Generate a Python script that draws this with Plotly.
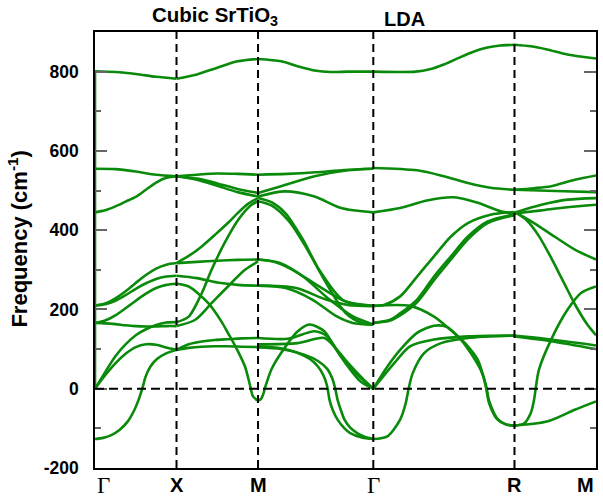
import plotly.graph_objects as go

# High-symmetry path of the simple-cubic Brillouin zone (distances in units of 2*pi/a)
path_labels = ["Γ", "X", "M", "Γ", "R", "M"]
path_k = [0.0, 0.5, 1.0, 1.7071, 2.5731, 3.0731]

# Frequency axis ticks (cm^-1)
freq_ticks = [-200, 0, 200, 400, 600, 800]
freq_tick_text = ["-200", "0", "200", "400", "600", "800"]

# Non-analytic LO jump drawn at the first Γ point (cm^-1)
gamma_jump = [0, 800]

# Phonon branches, one dict per path segment:
# name -> (fractional position along the segment, frequency in cm^-1; imaginary shown negative)
seg_gamma_x = {
    "A": ([0, .25, .5, .75, 1], [801, 799, 794, 787, 782]),
    "B": ([0, .25, .5, .75, 1], [555, 554, 548, 540, 536]),
    "C": ([0, .125, .25, .375, .5, .625, .75, .875, 1], [445, 450, 460, 472, 484, 502, 520, 532, 536]),
    "D1": ([0, .125, .25, .375, .5, .625, .75, .875, 1], [210, 215, 228, 246, 267, 287, 303, 313, 317]),
    "D2": ([0, .125, .25, .375, .5, .625, .75, .875, 1], [210, 213, 222, 236, 252, 266, 277, 283, 285]),
    "D3": ([0, .125, .25, .375, .5, .625, .75, .875, 1], [166, 172, 185, 203, 222, 240, 254, 262, 265]),
    "E1": ([0, .125, .25, .375, .5, .625, .75, .875, 1], [166, 165, 163, 160, 158, 157, 157, 158, 158]),
    "E2": ([0, .125, .25, .375, .5, .625, .75, .875, 1], [0, 42, 82, 112, 135, 150, 161, 167, 168]),
    "E3": ([0, .125, .25, .375, .5, .625, .75, .875, 1], [0, 34, 64, 88, 105, 112, 111, 104, 98]),
    "E4": ([0, .1, .2, .3, .4, .48, .54, .58, .62, .68, .76, .86, 1],
           [-127, -124, -117, -104, -83, -55, -25, 0, 30, 56, 75, 88, 98]),
}

seg_x_m = {
    "A": ([0, .25, .5, .75, 1], [782, 793, 810, 826, 832]),
    "B": ([0, .25, .5, .75, 1], [536, 540, 543, 542, 540]),
    "C": ([0, .25, .5, .75, 1], [536, 530, 518, 504, 494]),
    "C2": ([0, .25, .5, .75, 1], [536, 527, 512, 496, 485]),
    "D1": ([0, .25, .5, .75, 1], [317, 320, 323, 325, 326]),
    "D1p": ([0, .15, .31, .47, .63, .75, .88, 1], [317, 335, 359, 388, 418, 443, 467, 481]),
    "D2": ([0, .25, .5, .75, 1], [285, 279, 268, 262, 260]),
    "D3": ([0, .15, .39, .55, .63, .74, .84, .9, .94, 1], [265, 258, 216, 170, 141, 100, 56, 10, -20, -30]),
    "E2": ([0, .15, .31, .43, .59, .76, .92, 1], [168, 182, 241, 300, 368, 427, 464, 473]),
    "E1": ([0, .23, .43, .63, .84, 1], [158, 174, 216, 258, 300, 321]),
    "F1": ([0, .15, .31, .47, .63, .8, 1], [98, 112, 119, 123, 125, 127, 128]),
    "F2": ([0, .15, .31, .47, .63, .8, 1], [98, 103, 106, 107, 107, 106, 105]),
}

seg_m_gamma = {
    "A": ([0, .2, .35, .49, .63, .78, 1], [832, 826, 813, 803, 799, 800, 800]),
    "B": ([0, .25, .5, .75, 1], [540, 542, 546, 552, 555]),
    "C": ([0, .2, .49, .78, 1], [494, 511, 536, 551, 555]),
    "C2": ([0, .23, .49, .72, 1], [485, 498, 485, 456, 445]),
    "L1": ([0, .12, .24, .39, .53, .73, .9, 1], [481, 470, 442, 376, 300, 225, 210, 209]),
    "L2": ([0, .12, .27, .42, .59, .76, .9, 1], [473, 462, 422, 355, 267, 191, 166, 162]),
    "L4": ([0, .13, .3, .53, .76, 1], [326, 321, 300, 258, 220, 209]),
    "L5": ([0, .19, .39, .62, .82, 1], [326, 317, 283, 225, 183, 162]),
    "L6": ([0, .24, .47, .68, .82, 1], [260, 254, 225, 183, 166, 162]),
    "L7": ([0, .33, .59, .79, 1], [260, 254, 225, 211, 209]),
    "H1": ([0, .025, .045, .058, .08, .115, .2, .345, .445, .575, .66, .78, .89, 1],
           [-30, -26, -14, 0, 20, 48, 90, 145, 162, 145, 107, 56, 18, 0]),
    "H2": ([0, .26, .49, .6, .72, .85, 1], [128, 126, 145, 132, 82, 38, 0]),
    "H3": ([0, .345, .575, .68, .78, .9, 1], [112, 115, 128, 100, 65, 28, 0]),
    "S1": ([0, .2, .345, .45, .52, .57, .6, .62, .65, .69, .75, .8, .9, 1],
           [107, 102, 90, 75, 56, 32, 6, -28, -55, -78, -100, -112, -123, -127]),
    "S2": ([0, .2, .4, .52, .6, .645, .67, .69, .72, .75, .8, .86, .93, 1],
           [104, 100, 86, 70, 50, 25, 0, -28, -55, -78, -98, -112, -122, -127]),
}

seg_gamma_r = {
    "A": ([0, .2, .3, .4, .5, .6, .7, .8, .9, 1], [800, 799, 800, 806, 818, 834, 849, 860, 866, 868]),
    "T1": ([0, .31, .5, .67, .83, 1], [557, 551, 536, 519, 507, 502]),
    "T2": ([0, .19, .38, .57, .74, .9, 1], [445, 456, 475, 483, 469, 448, 442]),
    "U1": ([0, .08, .19, .31, .43, .55, .67, .83, 1], [209, 212, 233, 283, 334, 384, 418, 439, 446]),
    "U2": ([0, .12, .19, .31, .43, .55, .67, .81, 1], [166, 174, 190, 225, 283, 334, 384, 422, 440]),
    "U3": ([0, .12, .19, .31, .43, .55, .67, .81, 1], [166, 172, 185, 218, 274, 326, 377, 418, 438]),
    "W1": ([0, .26, .43, .57, .67, .74, .78, .8, .82, .88, .94, 1],
           [209, 209, 182, 141, 107, 73, 31, 0, -36, -78, -90, -93]),
    "W2": ([0, .1, .19, .31, .43, .52, .62, .69, .76, .8, .82, .88, .94, 1],
           [0, 56, 98, 141, 159, 156, 124, 90, 48, 6, -30, -76, -90, -93]),
    "V1": ([0, .15, .26, .43, .67, 1], [0, 65, 107, 124, 132, 134]),
    "V2": ([0, .1, .19, .23, .25, .28, .36, .48, .67, 1], [-127, -120, -78, -36, 0, 40, 90, 115, 128, 134]),
}

seg_r_m = {
    "A": ([0, .2, .4, .65, 1], [868, 864, 856, 843, 833]),
    "T1": ([0, .24, .45, .74, 1], [502, 506, 511, 527, 538]),
    "T1b": ([0, .5, 1], [502, 499, 496]),
    "P1": ([0, .33, .65, 1], [444, 464, 477, 481]),
    "P2": ([0, .33, .65, 1], [442, 450, 458, 464]),
    "P3": ([0, .24, .49, .74, 1], [446, 418, 384, 351, 326]),
    "P4": ([0, .15, .3, .45, .6, .75, .9, 1], [446, 425, 385, 330, 270, 210, 160, 135]),
    "Q1": ([0, .12, .2, .24, .26, .3, .45, .65, .82, 1], [-93, -87, -61, -28, 0, 48, 124, 199, 242, 258]),
    "Q2": ([0, .41, .74, 1], [-93, -82, -53, -32]),
    "G1": ([0, .45, 1], [134, 124, 109]),
    "G2": ([0, .45, 1], [132, 120, 100]),
}

segments = [seg_gamma_x, seg_x_m, seg_m_gamma, seg_gamma_r, seg_r_m]

BAND_COLOR = "#0a8a0a"
SANS = "Liberation Sans, Arial, sans-serif"
SERIF = "Liberation Serif, Times New Roman, serif"

fig = go.Figure()

for i, seg in enumerate(segments):
    k0, k1 = path_k[i], path_k[i + 1]
    for name, (t, f) in seg.items():
        fig.add_trace(go.Scatter(
            x=[k0 + tt * (k1 - k0) for tt in t], y=f, mode="lines",
            line=dict(color=BAND_COLOR, width=2.6, shape="spline", smoothing=0.8),
            hoverinfo="skip", showlegend=False,
        ))

fig.add_trace(go.Scatter(
    x=[path_k[0], path_k[0]], y=gamma_jump, mode="lines",
    line=dict(color=BAND_COLOR, width=2.6), hoverinfo="skip", showlegend=False,
))

# dashed guides at the interior high-symmetry points and at zero frequency
for k in path_k[1:-1]:
    fig.add_shape(type="line", x0=k, x1=k, y0=0, y1=1, xref="x", yref="paper",
                  line=dict(color="black", width=2, dash="8px,5px"), layer="above")
fig.add_shape(type="line", x0=0, x1=1, y0=0, y1=0, xref="paper", yref="y",
              line=dict(color="black", width=2, dash="9px,5px"), layer="above")

# high-symmetry point labels under the axis
annotations = []
for j, (k, lab) in enumerate(zip(path_k, path_labels)):
    anchor = "left" if j == 0 else ("right" if j == len(path_k) - 1 else "center")
    if lab == "Γ":
        txt, fnt = lab, dict(family=SERIF, size=23)
    else:
        txt, fnt = "<b>" + lab + "</b>", dict(family=SANS, size=20)
    annotations.append(dict(text=txt, x=k, y=-0.04, xref="x", yref="paper", showarrow=False,
                            xanchor=anchor, yanchor="middle", font=fnt))

annotations += [
    dict(text="<b>Cubic SrTiO<sub>3</sub></b>", x=0.24, y=1.037, xref="paper", yref="paper",
         showarrow=False, font=dict(family=SANS, size=20.5), xanchor="center", yanchor="middle"),
    dict(text="<b>LDA</b>", x=0.618, y=1.03, xref="paper", yref="paper",
         showarrow=False, font=dict(family=SANS, size=20), xanchor="center", yanchor="middle"),
    dict(text="<b>Frequency (cm<sup>-1</sup>)</b>", x=-0.153, y=0.527, xref="paper", yref="paper",
         showarrow=False, textangle=-90, font=dict(family=SANS, size=22),
         xanchor="center", yanchor="middle"),
]

fig.update_layout(
    width=603, height=500,
    margin=dict(l=95, r=5, t=32, b=32),
    paper_bgcolor="white", plot_bgcolor="white",
    font=dict(family=SANS, size=17, color="black"),
    xaxis=dict(
        range=[path_k[0], path_k[-1]], tickvals=path_k, showticklabels=False,
        showgrid=False, zeroline=False, ticks="",
        showline=True, linecolor="black", linewidth=1.5, mirror=True,
    ),
    yaxis=dict(
        range=[-200, 900], tickvals=freq_ticks, ticktext=freq_tick_text,
        showgrid=False, zeroline=False,
        ticks="inside", ticklen=12, tickwidth=1.5, tickcolor="#666666",
        minor=dict(ticks="inside", ticklen=6, dtick=100, tickcolor="#666666", tickwidth=1.5),
        showline=True, linecolor="black", linewidth=1.5, mirror="ticks",
        tickfont=dict(family=SANS, size=17.5, weight="bold"), ticklabelstandoff=11,
    ),
    annotations=annotations,
)

fig.write_html("out.html")
